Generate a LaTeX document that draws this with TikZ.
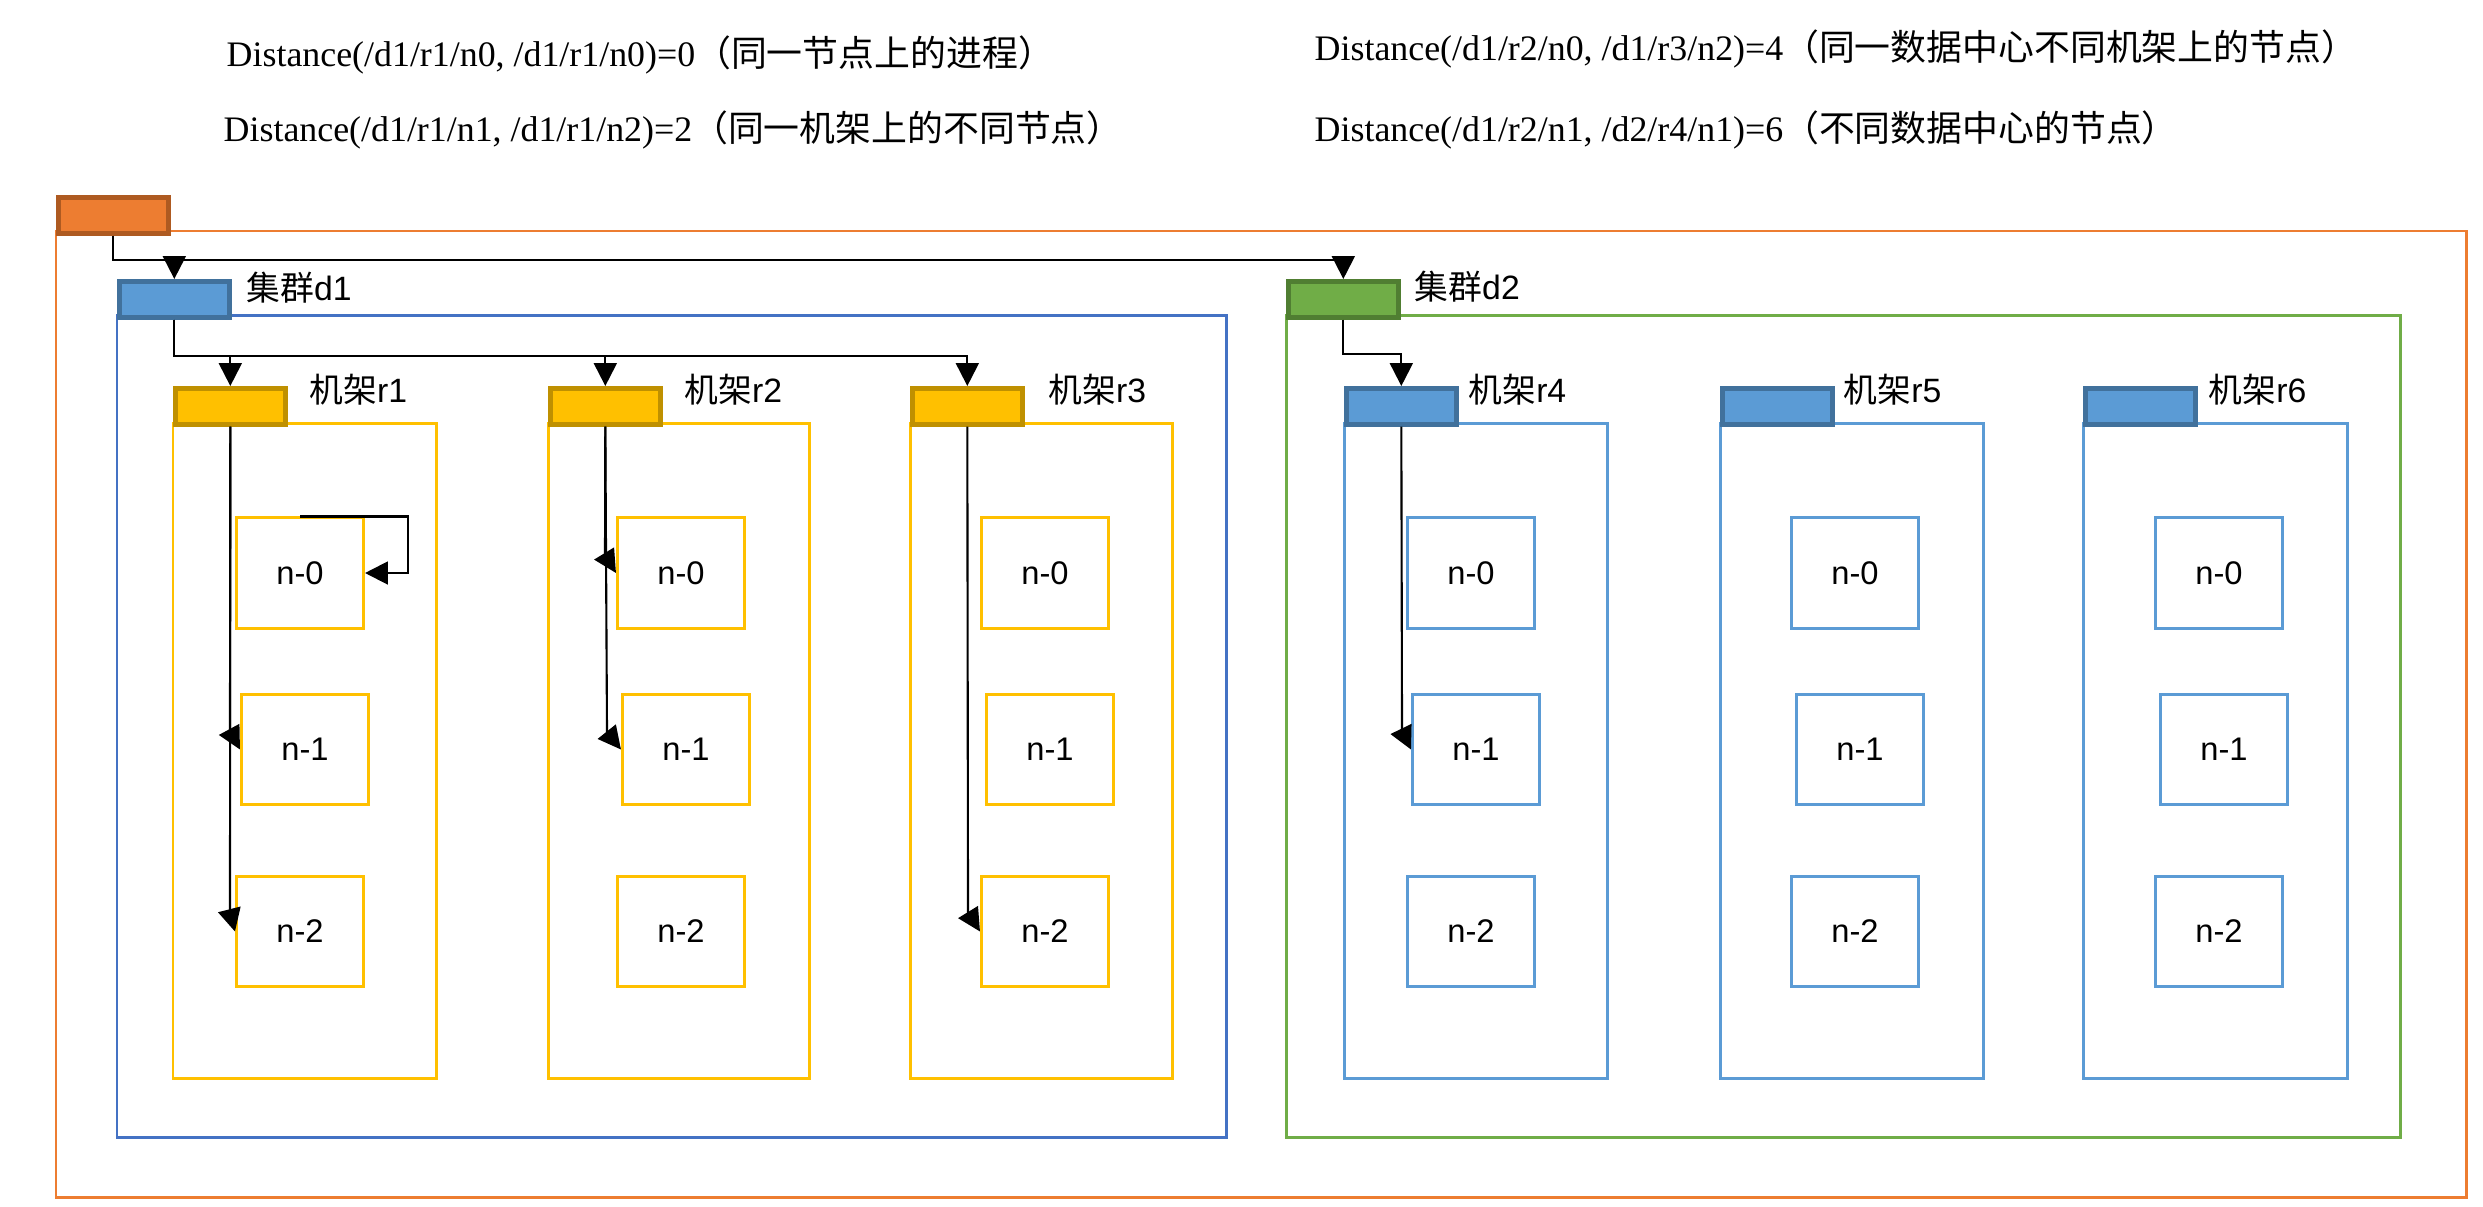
\documentclass[tikz,border=0pt]{standalone}
\usepackage{fontspec}
\setmainfont{Liberation Sans}
\newfontfamily\cjk{Noto Sans CJK SC}
\newfontfamily\tms{Liberation Serif}
\usetikzlibrary{arrows.meta}
\definecolor{orgF}{HTML}{ED7D31}
\definecolor{orgD}{HTML}{AE5A21}
\definecolor{bluF}{HTML}{5B9BD5}
\definecolor{bluD}{HTML}{41719C}
\definecolor{dOneLine}{HTML}{4472C4}
\definecolor{grnF}{HTML}{70AD47}
\definecolor{grnD}{HTML}{507E32}
\definecolor{ylwF}{HTML}{FFC000}
\definecolor{ylwD}{HTML}{BF9000}
\tikzset{
  tabbox/.style={draw, line width=1.3pt, minimum width=1.1cm, minimum height=0.36cm, inner sep=0pt, anchor=north west},
  framebox/.style={line width=0.85pt},
  nodebox/.style={draw, line width=0.85pt, minimum width=1.27cm, minimum height=1.10cm, inner sep=0pt, font=\fontsize{9.3}{11}\selectfont},
  lbl/.style={anchor=west, inner sep=0pt, font=\fontsize{9.6}{11}\selectfont},
  toptext/.style={anchor=west, inner sep=0pt, font=\fontsize{10.2}{12}\selectfont},
  arr/.style={-{Triangle[length=6.5pt,width=6.5pt]}, line width=0.6pt, black},
}
\begin{document}
\begin{tikzpicture}[x=0.01cm,y=-0.01cm]
\useasboundingbox (0,0) rectangle (2483,1206);
% top texts
\node[toptext] (t1) at (226,55) {\tms Distance(/d1/r1/n0, /d1/r1/n0)=0{\cjk（同一节点上的进程）}};
\node[toptext] (t2) at (223,130) {\tms Distance(/d1/r1/n1, /d1/r1/n2)=2{\cjk（同一机架上的不同节点）}};
\node[toptext] (t3) at (1314,49) {\tms Distance(/d1/r2/n0, /d1/r3/n2)=4{\cjk（同一数据中心不同机架上的节点）}};
\node[toptext] (t4) at (1314,130) {\tms Distance(/d1/r2/n1, /d2/r4/n1)=6{\cjk（不同数据中心的节点）}};
% frames
\draw[framebox, orgF] (56,231) rectangle (2466,1197);
\draw[framebox, dOneLine] (117,315) rectangle (1226,1137);
\draw[framebox, grnF] (1286,315) rectangle (2400,1137);
% racks
\foreach \nm/\L/\R/\cx/\fc/\dc/\lx in {
  r1/173/436/300/ylwF/ylwD/309,
  r2/548/809/681/ylwF/ylwD/684,
  r3/910/1172/1045/ylwF/ylwD/1048,
  r4/1344/1607/1471/bluF/bluD/1468,
  r5/1720/1983/1855/bluF/bluD/1843,
  r6/2083/2347/2219/bluF/bluD/2208}{
  \draw[framebox, \fc] (\L,423) rectangle (\R,1078);
  \node[tabbox, fill=\fc, draw=\dc] (\nm t) at (\L,386) {};
  \node[lbl] (\nm lab) at (\lx,390) {{\cjk 机架}\nm};
  \node[nodebox, draw=\fc] (\nm n0) at (\cx,573) {n-0};
  \node[nodebox, draw=\fc] (\nm n1) at (\cx+5,749.5) {n-1};
  \node[nodebox, draw=\fc] (\nm n2) at (\cx,931.5) {n-2};
}
% top tabs
\node[tabbox, fill=orgF, draw=orgD] (ot) at (56,195) {};
\node[tabbox, fill=bluF, draw=bluD] (d1t) at (117,279) {};
\node[tabbox, fill=grnF, draw=grnD] (d2t) at (1286,279) {};
\node[lbl] (d1lab) at (246,288) {{\cjk 集群}d1};
\node[lbl] (d2lab) at (1414,287) {{\cjk 集群}d2};
% connectors
\draw[arr] (ot.south) -- ++(0,24) -| (d1t.north);
\draw[arr] (ot.south) -- ++(0,24) -| (d2t.north);
\draw[arr] (d1t.south) -- ++(0,36) -| (r1t.north);
\draw[arr] (d1t.south) -- ++(0,36) -| (r2t.north);
\draw[arr] (d1t.south) -- ++(0,36) -| (r3t.north);
\draw[arr] (d2t.south) -- ++(0,34) -| (r4t.north);
\draw[arr] (r1n0.north) -- ++(108,0) |- (r1n0.east);
\draw[arr] (r1t.south) -- (230,731) -- (r1n1.west);
\draw[arr] (r1t.south) -- (230,912) -- (r1n2.west);
\draw[arr] (r2t.south) -- (605,555) -- (r2n0.west);
\draw[arr] (r2t.south) -- (607,732) -- (r2n1.west);
\draw[arr] (r3t.south) -- (968,912) -- (r3n2.west);
\draw[arr] (r4t.south) -- (1402,731) -- (r4n1.west);
\end{tikzpicture}
\end{document}
